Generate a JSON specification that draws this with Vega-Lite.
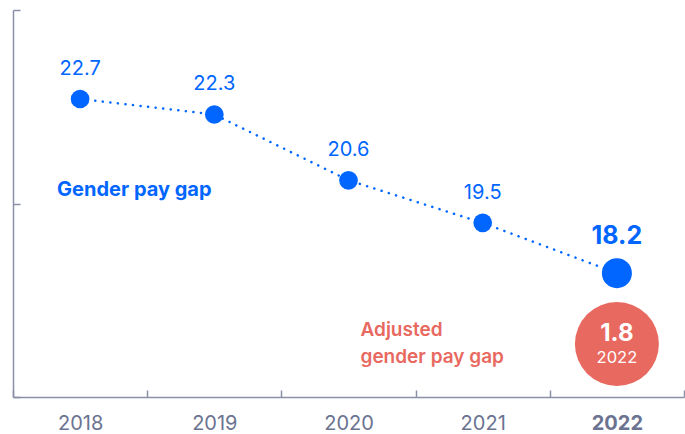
{
  "$schema": "https://vega.github.io/schema/vega-lite/v6.json",
  "width": 671,
  "height": 387,
  "autosize": "none",
  "padding": {"left": 13, "top": 10, "right": 1, "bottom": 37},
  "background": "white",
  "config": {"view": {"stroke": null}, "font": "Inter"},
  "datasets": {
    "gap": [
      {"year": "2018", "value": 22.7},
      {"year": "2019", "value": 22.3},
      {"year": "2020", "value": 20.6},
      {"year": "2021", "value": 19.5},
      {"year": "2022", "value": 18.2}
    ],
    "adjusted": [
      {"year": "2022", "value": 1.8, "label": "2022"}
    ]
  },
  "layer": [
    {
      "data": {"name": "gap"},
      "mark": {"type": "line", "color": "#0066FF", "strokeWidth": 2.5, "strokeDash": [0.1, 7.5], "strokeCap": "round"},
      "encoding": {
        "x": {"field": "year", "type": "ordinal", "scale": {"domain": ["2018", "2019", "2020", "2021", "2022"], "paddingInner": 0, "paddingOuter": 0},
          "axis": {"title": null, "domainColor": "#8A90A8", "domainWidth": 1.5, "tickColor": "#8A90A8", "tickWidth": 1.5, "tickSize": -7, "tickBand": "extent", "labelAngle": 0, "labelFontSize": 20, "labelColor": "#6B7391", "labelPadding": 23, "labelFont": "Inter",
            "labelFontWeight": {"condition": {"test": "datum.value == '2022'", "value": "bold"}, "value": "normal"}}},
        "y": {"field": "value", "type": "quantitative", "scale": {"domain": [15, 25], "nice": false, "zero": false},
          "axis": {"title": null, "values": [15, 20, 25], "labels": false, "domainColor": "#8A90A8", "domainWidth": 1.5, "tickColor": "#8A90A8", "tickWidth": 1.5, "tickSize": -7, "grid": false}}
      }
    },
    {
      "data": {"name": "gap"},
      "mark": {"type": "point", "filled": true, "opacity": 1, "color": "#0066FF"},
      "encoding": {
        "x": {"field": "year", "type": "ordinal"},
        "y": {"field": "value", "type": "quantitative"},
        "size": {"condition": {"test": "datum.year == '2022'", "value": 900}, "value": 350}
      }
    },
    {
      "data": {"name": "gap"},
      "transform": [{"filter": "datum.year != '2022'"}],
      "mark": {"type": "text", "color": "#0066FF", "fontSize": 20, "dy": -30, "font": "Inter"},
      "encoding": {
        "x": {"field": "year", "type": "ordinal"},
        "y": {"field": "value", "type": "quantitative"},
        "text": {"field": "value", "type": "quantitative", "format": ".1f"}
      }
    },
    {
      "data": {"name": "gap"},
      "transform": [{"filter": "datum.year == '2022'"}],
      "mark": {"type": "text", "color": "#0066FF", "fontSize": 25, "fontWeight": "bold", "dy": -37, "font": "Inter"},
      "encoding": {
        "x": {"field": "year", "type": "ordinal"},
        "y": {"field": "value", "type": "quantitative"},
        "text": {"field": "value", "type": "quantitative", "format": ".1f"}
      }
    },
    {
      "data": {"name": "adjusted"},
      "mark": {"type": "point", "filled": true, "opacity": 1, "color": "#E8695F", "size": 7056},
      "encoding": {
        "x": {"field": "year", "type": "ordinal"},
        "y": {"datum": 16.37}
      }
    },
    {
      "data": {"name": "adjusted"},
      "mark": {"type": "text", "color": "white", "fontSize": 24, "fontWeight": "bold", "font": "Inter"},
      "encoding": {
        "x": {"field": "year", "type": "ordinal"},
        "y": {"datum": 16.62},
        "text": {"field": "value", "type": "quantitative", "format": ".1f"}
      }
    },
    {
      "data": {"name": "adjusted"},
      "mark": {"type": "text", "color": "white", "fontSize": 16.5, "font": "Inter"},
      "encoding": {
        "x": {"field": "year", "type": "ordinal"},
        "y": {"datum": 16.01},
        "text": {"field": "label"}
      }
    },
    {
      "data": {"values": [{"t": "Gender pay gap"}]},
      "mark": {"type": "text", "color": "#0066FF", "fontSize": 20, "fontWeight": "bold", "align": "left", "dx": -23, "font": "Inter"},
      "encoding": {
        "x": {"datum": "2018"},
        "y": {"datum": 20.35},
        "text": {"field": "t"}
      }
    },
    {
      "data": {"values": [{"t": "Adjusted\ngender pay gap"}]},
      "mark": {"type": "text", "color": "#E8695F", "fontSize": 19, "fontWeight": 600, "align": "left", "dx": 12, "lineBreak": "\n", "lineHeight": 27, "font": "Inter"},
      "encoding": {
        "x": {"datum": "2020"},
        "y": {"datum": 16.73},
        "text": {"field": "t"}
      }
    }
  ]
}
